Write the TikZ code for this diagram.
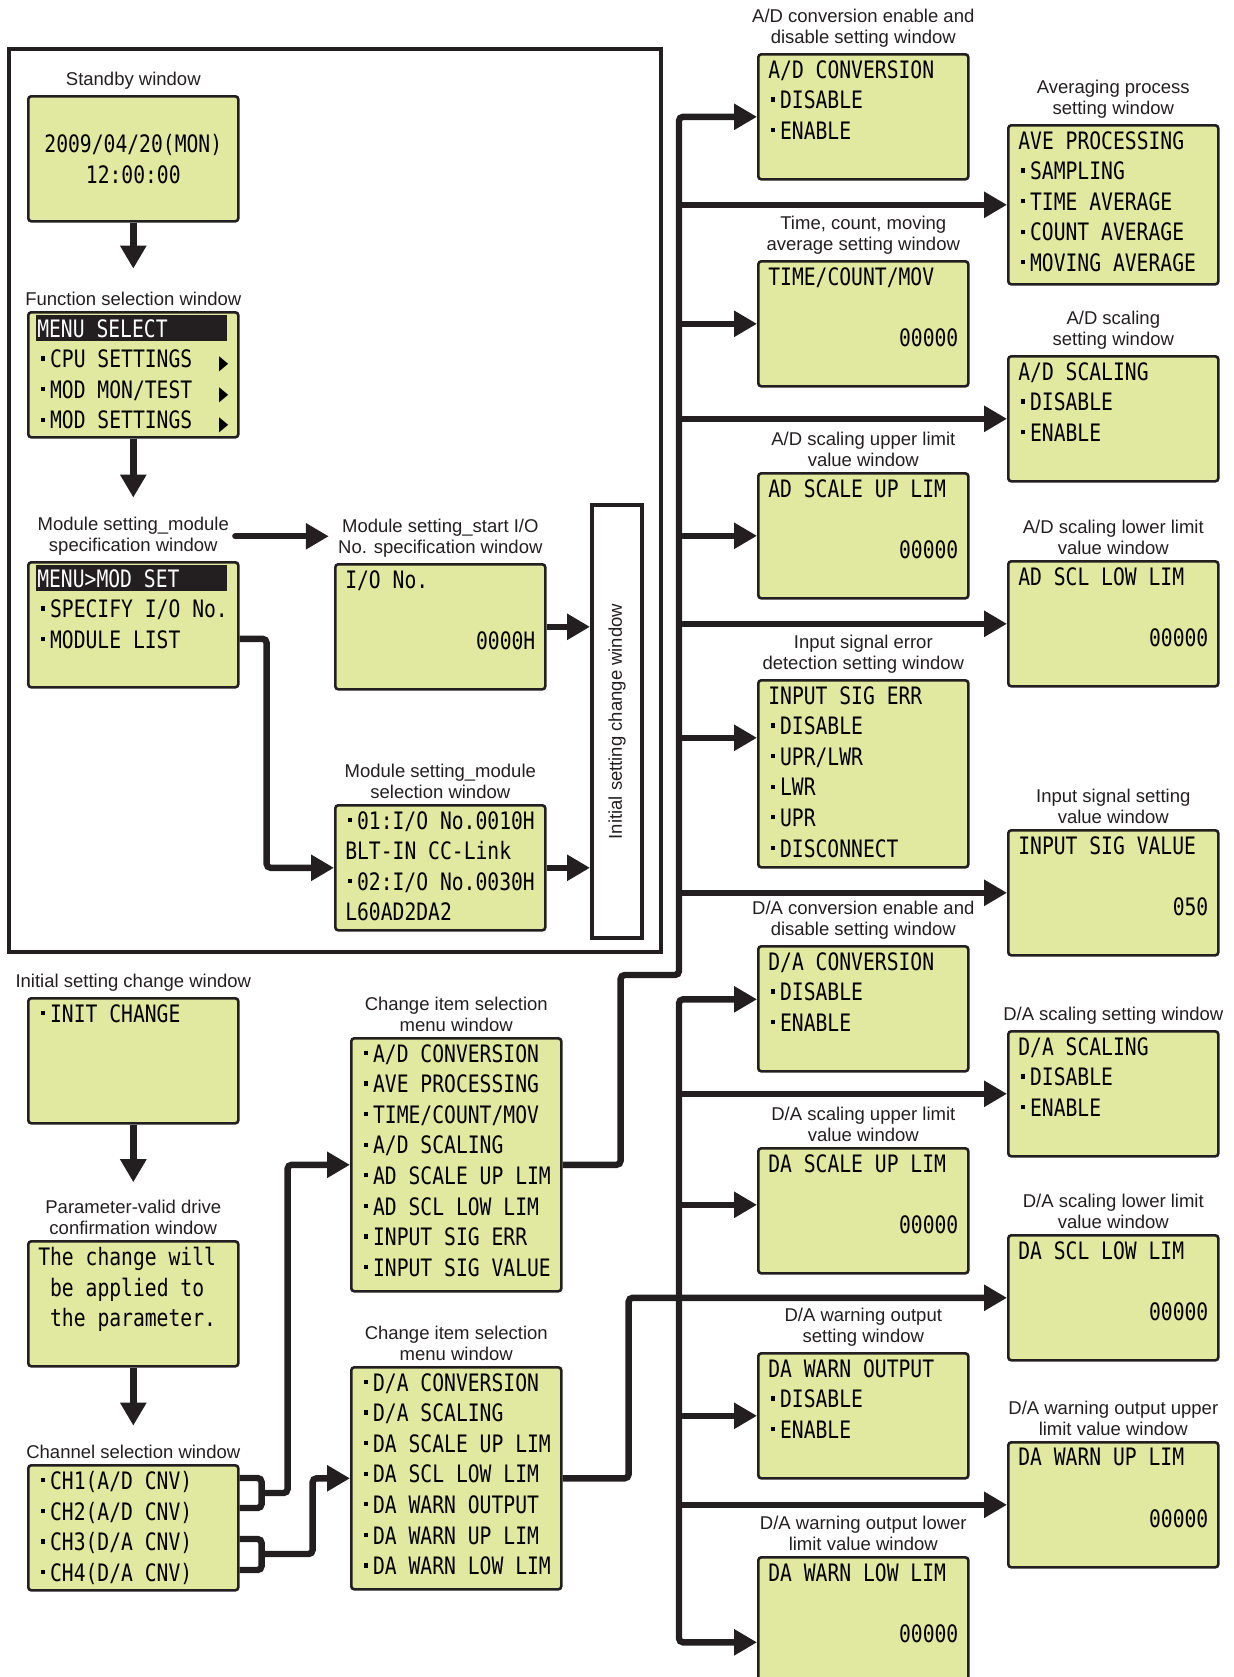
\documentclass[tikz,border=0pt]{standalone}
\usepackage{fontspec}
\setmainfont{Liberation Sans}
\newfontfamily\lcdfamily[FakeStretch=0.82]{DejaVu Sans Mono}
\newfontfamily\trifamily[FakeStretch=0.6]{DejaVu Sans}
\usepackage{xcolor}
\usepackage{tikz}
\usetikzlibrary{positioning,arrows.meta}

\definecolor{lcdgreen}{RGB}{225,232,160}
\definecolor{ink}{RGB}{35,31,32}
\setlength{\fboxsep}{2pt}

% display text: condensed mono, one screen = one top-aligned parbox
\newcommand{\lcdfont}{\lcdfamily\fontsize{12}{15.3}\selectfont}
\newcommand{\screen}[2]{\parbox[t][#1][t]{95pt}{\lcdfont #2}}
\newcommand{\lcddot}{\makebox[5.9pt][l]{\hspace{1.2pt}\rule[3.6pt]{1.9pt}{2.1pt}}}
\newcommand{\lcdsp}{\hspace*{5.92pt}}
\newcommand{\lcdval}[1]{\mbox{}\hfill#1}
\newcommand{\lcdarr}{\hfill\raisebox{-1pt}{\trifamily\fontsize{10}{10}\selectfont ▶}}
\newcommand{\lcdhead}[1]{\hspace*{-1pt}\colorbox{ink}{\hspace*{-1.5pt}\makebox[93pt][l]{\color{white}#1}}}

\begin{document}
\begin{tikzpicture}[x=0.5pt, y=-0.5pt,
    lcd/.style = {draw=ink, line width=1.3pt, fill=lcdgreen, rounded corners=1.5pt,
                  anchor=north west, inner xsep=5pt, inner ysep=3pt},
    lbl/.style = {font=\fontsize{9.25}{10.7}\selectfont, text=ink, align=center, inner sep=0pt},
    lnk/.style = {draw=ink, line width=3.2pt, rounded corners=2pt},
    arr/.style = {lnk, -{Triangle[length=11.5pt, width=12.5pt]}},
]
\useasboundingbox (0,0) rectangle (1234,1677);

%--- initial settings frame
\draw[ink, line width=1.7pt] (9,49) rectangle (661,952);

\node[lcd] (standby) at (27,95)
  {\parbox[t][56.5pt][c]{95pt}{\lcdfont\centering 2009/04/20(MON)\\12:00:00}};
\node[lcd, inner ysep=1.5pt] (fsel) at (27,311)
  {\screen{59.5pt}{\lcdhead{MENU SELECT}\\\lcddot CPU SETTINGS\lcdarr\\\lcddot MOD MON/TEST\lcdarr\\\lcddot MOD SETTINGS\lcdarr}};
\node[lcd, inner ysep=1.5pt] (modspec) at (27,561)
  {\screen{59.5pt}{\lcdhead{MENU>MOD SET}\\\lcddot SPECIFY I/O No.\\\lcddot MODULE LIST}};
\node[lcd] (modio) at (334,563)
  {\screen{56.5pt}{I/O No.\\[\baselineskip]\lcdval{0000H}}};
\node[lcd] (modsel) at (334,804)
  {\screen{56.5pt}{\lcddot 01:I/O No.0010H\\BLT-IN CC-Link\\\lcddot 02:I/O No.0030H\\L60AD2DA2}};
\node[lbl, draw=ink, line width=2pt, anchor=north west, minimum width=25pt,
      minimum height=216.5pt] (isw) at (590,503) {\rotatebox{90}{Initial setting change window}};

\node[lbl, above=2.5pt of standby] (standby-l) {Standby window};
\node[lbl, above=2.5pt of fsel] (fsel-l) {Function selection window};
\node[lbl, above=2.5pt of modspec] (modspec-l) {Module setting\_module\\specification window};
\node[lbl, above=2.5pt of modio] (modio-l) {Module setting\_start I/O\\No. specification window};
\node[lbl, above=2.5pt of modsel] (modsel-l) {Module setting\_module\\selection window};

%--- initial setting change
\node[lcd] (initc) at (27,997) {\screen{56.5pt}{\lcddot INIT CHANGE}};
\node[lcd] (param) at (27,1240)
  {\screen{56.5pt}{The change will\\\lcdsp be applied to\\\lcdsp the parameter.}};
\node[lcd] (chan) at (27,1464)
  {\screen{56.5pt}{\lcddot CH1(A/D CNV)\\\lcddot CH2(A/D CNV)\\\lcddot CH3(D/A CNV)\\\lcddot CH4(D/A CNV)}};
\node[lcd] (chg1) at (350,1037)
  {\screen{120.5pt}{\lcddot A/D CONVERSION\\\lcddot AVE PROCESSING\\\lcddot TIME/COUNT/MOV\\\lcddot A/D SCALING\\
   \lcddot AD SCALE UP LIM\\\lcddot AD SCL LOW LIM\\\lcddot INPUT SIG ERR\\\lcddot INPUT SIG VALUE}};
\node[lcd] (chg2) at (350,1366)
  {\screen{105pt}{\lcddot D/A CONVERSION\\\lcddot D/A SCALING\\\lcddot DA SCALE UP LIM\\\lcddot DA SCL LOW LIM\\
   \lcddot DA WARN OUTPUT\\\lcddot DA WARN UP LIM\\\lcddot DA WARN LOW LIM}};

\node[lbl, above=2.5pt of initc] (initc-l) {Initial setting change window};
\node[lbl, above=2.5pt of param] (param-l) {Parameter-valid drive\\confirmation window};
\node[lbl, above=2.5pt of chan] (chan-l) {Channel selection window};
\node[lbl, above=2.5pt of chg1] (chg1-l) {Change item selection\\menu window};
\node[lbl, above=2.5pt of chg2] (chg2-l) {Change item selection\\menu window};

%--- A/D items
\node[lcd] (adconv) at (757,53) {\screen{56.5pt}{A/D CONVERSION\\\lcddot DISABLE\\\lcddot ENABLE}};
\node[lcd] (tcm) at (757,260) {\screen{56.5pt}{TIME/COUNT/MOV\\[\baselineskip]\lcdval{00000}}};
\node[lcd] (adup) at (757,472) {\screen{56.5pt}{AD SCALE UP LIM\\[\baselineskip]\lcdval{00000}}};
\node[lcd] (inerr) at (757,679)
  {\screen{87.5pt}{INPUT SIG ERR\\\lcddot DISABLE\\\lcddot UPR/LWR\\\lcddot LWR\\\lcddot UPR\\\lcddot DISCONNECT}};
\node[lcd] (ave) at (1007,124)
  {\screen{73.5pt}{AVE PROCESSING\\\lcddot SAMPLING\\\lcddot TIME AVERAGE\\\lcddot COUNT AVERAGE\\\lcddot MOVING AVERAGE}};
\node[lcd] (adscl) at (1007,355) {\screen{56.5pt}{A/D SCALING\\\lcddot DISABLE\\\lcddot ENABLE}};
\node[lcd] (adlow) at (1007,560) {\screen{56.5pt}{AD SCL LOW LIM\\[\baselineskip]\lcdval{00000}}};
\node[lcd] (inval) at (1007,829) {\screen{56.5pt}{INPUT SIG VALUE\\[\baselineskip]\lcdval{050}}};

\node[lbl, above=2.5pt of adconv] (adconv-l) {A/D conversion enable and\\disable setting window};
\node[lbl, above=2.5pt of tcm] (tcm-l) {Time, count, moving\\average setting window};
\node[lbl, above=2.5pt of adup] (adup-l) {A/D scaling upper limit\\value window};
\node[lbl, above=2.5pt of inerr] (inerr-l) {Input signal error\\detection setting window};
\node[lbl, above=2.5pt of ave] (ave-l) {Averaging process\\setting window};
\node[lbl, above=2.5pt of adscl] (adscl-l) {A/D scaling\\setting window};
\node[lbl, above=2.5pt of adlow] (adlow-l) {A/D scaling lower limit\\value window};
\node[lbl, above=2.5pt of inval] (inval-l) {Input signal setting\\value window};

%--- D/A items
\node[lcd] (daconv) at (757,945) {\screen{56.5pt}{D/A CONVERSION\\\lcddot DISABLE\\\lcddot ENABLE}};
\node[lcd] (daup) at (757,1147) {\screen{56.5pt}{DA SCALE UP LIM\\[\baselineskip]\lcdval{00000}}};
\node[lcd] (dawout) at (757,1352) {\screen{56.5pt}{DA WARN OUTPUT\\\lcddot DISABLE\\\lcddot ENABLE}};
\node[lcd] (dawlow) at (757,1556) {\screen{59pt}{DA WARN LOW LIM\\[\baselineskip]\lcdval{00000}}};
\node[lcd] (dascl) at (1007,1030) {\screen{56.5pt}{D/A SCALING\\\lcddot DISABLE\\\lcddot ENABLE}};
\node[lcd] (dalow) at (1007,1234) {\screen{56.5pt}{DA SCL LOW LIM\\[\baselineskip]\lcdval{00000}}};
\node[lcd] (dawup) at (1007,1441) {\screen{56.5pt}{DA WARN UP LIM\\[\baselineskip]\lcdval{00000}}};

\node[lbl, above=2.5pt of daconv] (daconv-l) {D/A conversion enable and\\disable setting window};
\node[lbl, above=2.5pt of daup] (daup-l) {D/A scaling upper limit\\value window};
\node[lbl, above=2.5pt of dawout] (dawout-l) {D/A warning output\\setting window};
\node[lbl, above=2.5pt of dawlow] (dawlow-l) {D/A warning output lower\\limit value window};
\node[lbl, above=2.5pt of dascl] (dascl-l) {D/A scaling setting window};
\node[lbl, above=2.5pt of dalow] (dalow-l) {D/A scaling lower limit\\value window};
\node[lbl, above=2.5pt of dawup] (dawup-l) {D/A warning output upper\\limit value window};

%--- flow inside the frame
\draw[arr, shorten >=11.5pt] (standby.south) -- (fsel-l.north);
\draw[arr, shorten >=9.5pt] (fsel.south) -- (modspec-l.north);
\draw[arr, line cap=round, shorten <=3pt, shorten >=4.5pt] (modspec-l.east) -- (modspec-l.east -| modio-l.west);
\draw[arr] ([yshift=-7pt]modspec.east) -- ++(27,0) |- (modsel.west);
\draw[arr] (modio.east) -- (modio.east -| isw.west);
\draw[arr] (modsel.east) -- (modsel.east -| isw.west);

%--- initial setting change chain
\draw[arr, shorten >=8.5pt] (initc.south) -- (param-l.north);
\draw[arr, shorten >=9.5pt] (param.south) -- (chan-l.north);

% channel brackets
\draw[lnk] ([shift={(0,14)}]chan.north east) -- ++(22,0) |- ([shift={(0,44)}]chan.north east);
\draw[arr] ([shift={(22,29)}]chan.north east) -- ++(26,0) |- (chg1.west);
\draw[lnk] ([shift={(0,75)}]chan.north east) -- ++(22,0) |- ([shift={(0,106)}]chan.north east);
\draw[arr] ([shift={(22,90)}]chan.north east) -- ++(51,0) |- (chg2.west);

%--- A/D bus
\coordinate (ubus) at (679,975);
\draw[arr] (chg1.east) -- ++(58,0) |- (ubus) |- (adconv.west);
\foreach \t in {ave,tcm,adscl,adup,adlow,inval}
  \draw[arr] (\t.west -| ubus) -- (\t.west);
\coordinate (ine) at ([yshift=18pt]inerr.west);
\draw[arr] (ine -| ubus) -- (ine);

%--- D/A bus
\draw[arr] (chg2.east) -- ++(66,0) |- (dalow.west);
\coordinate (dac) at ([yshift=4.75pt]daconv.west);
\coordinate (dau) at ([yshift=3pt]daup.west);
\coordinate (dwl) at ([yshift=-10pt]dawlow.west);
\draw[arr] (dalow.west -| ubus) |- (dac);
\draw[arr] (dalow.west -| ubus) |- (dwl);
\draw[arr] (dau -| ubus) -- (dau);
\foreach \t in {dascl,dawout,dawup}
  \draw[arr] (\t.west -| ubus) -- (\t.west);

\end{tikzpicture}
\end{document}
